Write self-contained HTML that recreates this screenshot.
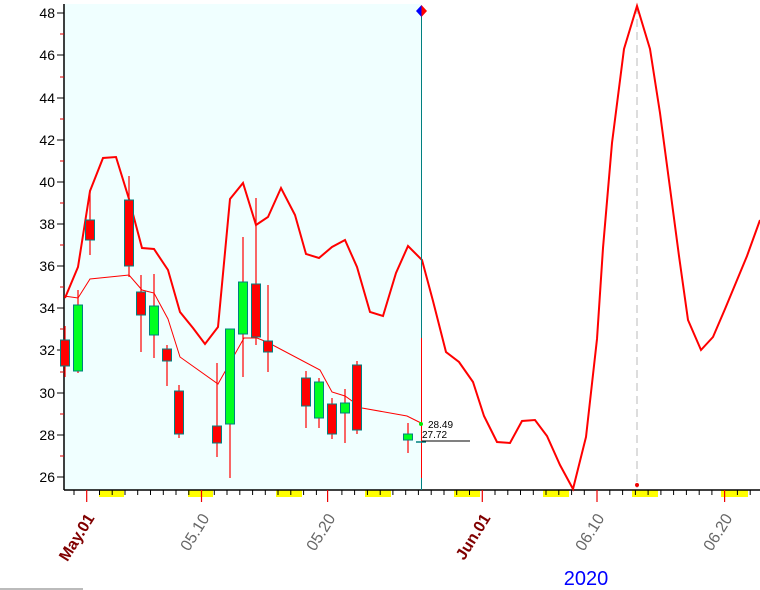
<!DOCTYPE html>
<html><head><meta charset="utf-8"><style>
html,body{margin:0;padding:0;background:#fff;}
svg{display:block;font-family:"Liberation Sans",sans-serif;}
</style></head><body>
<svg width="760" height="590" viewBox="0 0 760 590" xmlns="http://www.w3.org/2000/svg">
<rect x="64" y="4" width="357" height="486" fill="#F0FFFF"/>
<line x1="64" y1="4" x2="64" y2="490" stroke="#000" stroke-width="1.5"/>
<g stroke="#000" stroke-width="1">
<line x1="57" y1="477" x2="64" y2="477"/><line x1="57" y1="435" x2="64" y2="435"/><line x1="57" y1="393" x2="64" y2="393"/><line x1="57" y1="350" x2="64" y2="350"/><line x1="57" y1="308" x2="64" y2="308"/><line x1="57" y1="266" x2="64" y2="266"/><line x1="57" y1="224" x2="64" y2="224"/><line x1="57" y1="182" x2="64" y2="182"/><line x1="57" y1="140" x2="64" y2="140"/><line x1="57" y1="98" x2="64" y2="98"/><line x1="57" y1="55" x2="64" y2="55"/><line x1="57" y1="13" x2="64" y2="13"/>
</g>
<g stroke="#d00" stroke-width="1">
<line x1="60" y1="456" x2="64" y2="456"/><line x1="60" y1="414" x2="64" y2="414"/><line x1="60" y1="372" x2="64" y2="372"/><line x1="60" y1="329" x2="64" y2="329"/><line x1="60" y1="287" x2="64" y2="287"/><line x1="60" y1="245" x2="64" y2="245"/><line x1="60" y1="203" x2="64" y2="203"/><line x1="60" y1="161" x2="64" y2="161"/><line x1="60" y1="119" x2="64" y2="119"/><line x1="60" y1="77" x2="64" y2="77"/><line x1="60" y1="34" x2="64" y2="34"/>
</g>
<g font-size="14" fill="#000" text-anchor="end">
<text x="55" y="482">26</text><text x="55" y="440">28</text><text x="55" y="398">30</text><text x="55" y="355">32</text><text x="55" y="313">34</text><text x="55" y="271">36</text><text x="55" y="229">38</text><text x="55" y="187">40</text><text x="55" y="145">42</text><text x="55" y="103">44</text><text x="55" y="60">46</text><text x="55" y="18">48</text>
</g>
<g fill="#FFFF00">
<rect x="99" y="490" width="25" height="7"/><rect x="188" y="490" width="25" height="7"/><rect x="276" y="490" width="26" height="7"/><rect x="365" y="490" width="26" height="7"/><rect x="454" y="490" width="26" height="7"/><rect x="543" y="490" width="26" height="7"/><rect x="632" y="490" width="26" height="7"/><rect x="721" y="490" width="27" height="7"/>
</g>
<line x1="64" y1="490" x2="760" y2="490" stroke="#000" stroke-width="1.5"/>
<g stroke="#000" stroke-width="1">
<line x1="74" y1="490" x2="74" y2="495"/><line x1="99.5" y1="490" x2="99.5" y2="495"/><line x1="112.2" y1="490" x2="112.2" y2="495"/><line x1="125" y1="490" x2="125" y2="495"/><line x1="137.7" y1="490" x2="137.7" y2="495"/><line x1="150.5" y1="490" x2="150.5" y2="495"/><line x1="163.3" y1="490" x2="163.3" y2="495"/><line x1="176" y1="490" x2="176" y2="495"/><line x1="188.8" y1="490" x2="188.8" y2="495"/><line x1="214.3" y1="490" x2="214.3" y2="495"/><line x1="227" y1="490" x2="227" y2="495"/><line x1="239.8" y1="490" x2="239.8" y2="495"/><line x1="252.6" y1="490" x2="252.6" y2="495"/><line x1="265.3" y1="490" x2="265.3" y2="495"/><line x1="278" y1="490" x2="278" y2="495"/><line x1="290.8" y1="490" x2="290.8" y2="495"/><line x1="303.6" y1="490" x2="303.6" y2="495"/><line x1="316.4" y1="490" x2="316.4" y2="495"/><line x1="341.9" y1="490" x2="341.9" y2="495"/><line x1="354.6" y1="490" x2="354.6" y2="495"/><line x1="367.4" y1="490" x2="367.4" y2="495"/><line x1="380.2" y1="490" x2="380.2" y2="495"/><line x1="392.9" y1="490" x2="392.9" y2="495"/><line x1="405.7" y1="490" x2="405.7" y2="495"/><line x1="418.4" y1="490" x2="418.4" y2="495"/><line x1="431.2" y1="490" x2="431.2" y2="495"/><line x1="444" y1="490" x2="444" y2="495"/><line x1="456.7" y1="490" x2="456.7" y2="495"/><line x1="469.5" y1="490" x2="469.5" y2="495"/><line x1="495" y1="490" x2="495" y2="495"/><line x1="507.8" y1="490" x2="507.8" y2="495"/><line x1="520.5" y1="490" x2="520.5" y2="495"/><line x1="533.3" y1="490" x2="533.3" y2="495"/><line x1="546" y1="490" x2="546" y2="495"/><line x1="558.8" y1="490" x2="558.8" y2="495"/><line x1="571.6" y1="490" x2="571.6" y2="495"/><line x1="584.3" y1="490" x2="584.3" y2="495"/><line x1="609.8" y1="490" x2="609.8" y2="495"/><line x1="622.6" y1="490" x2="622.6" y2="495"/><line x1="635.4" y1="490" x2="635.4" y2="495"/><line x1="648.1" y1="490" x2="648.1" y2="495"/><line x1="660.9" y1="490" x2="660.9" y2="495"/><line x1="673.6" y1="490" x2="673.6" y2="495"/><line x1="686.4" y1="490" x2="686.4" y2="495"/><line x1="699.2" y1="490" x2="699.2" y2="495"/><line x1="711.9" y1="490" x2="711.9" y2="495"/><line x1="737.4" y1="490" x2="737.4" y2="495"/><line x1="750.2" y1="490" x2="750.2" y2="495"/>
</g>
<g stroke="#e00" stroke-width="1.2">
<line x1="86.7" y1="490" x2="86.7" y2="502"/><line x1="201.5" y1="490" x2="201.5" y2="502"/><line x1="327.6" y1="490" x2="327.6" y2="502"/><line x1="482.3" y1="490" x2="482.3" y2="502"/><line x1="597" y1="490" x2="597" y2="502"/><line x1="724.6" y1="490" x2="724.6" y2="502"/>
</g>
<g font-size="16" text-anchor="end">
<text x="95" y="518" transform="rotate(-58 95 518)" fill="#800000" font-weight="bold">May.01</text>
<text x="210" y="518" transform="rotate(-58 210 518)" fill="#666">05.10</text>
<text x="336" y="518" transform="rotate(-58 336 518)" fill="#666">05.20</text>
<text x="491" y="518" transform="rotate(-58 491 518)" fill="#800000" font-weight="bold">Jun.01</text>
<text x="605" y="518" transform="rotate(-58 605 518)" fill="#666">06.10</text>
<text x="733" y="518" transform="rotate(-58 733 518)" fill="#666">06.20</text>
</g>
<text x="586" y="585" font-size="20" fill="#0000ff" text-anchor="middle">2020</text>
<line x1="0" y1="589" x2="83" y2="589" stroke="#bbb" stroke-width="2"/>
<line x1="637" y1="6" x2="637" y2="488" stroke="#bbb" stroke-width="1" stroke-dasharray="8,5"/>
<circle cx="637" cy="485" r="2" fill="#e00"/>
<polyline fill="none" stroke="#f00" stroke-width="2" points="65,298 78,267 90,191 103,158 116,157 129,199 142,248 154,249 168,270 180,312 193,328 205,344 218,327 230,199 243,183 256,225 268,217 281,188 295,215 306,254 319,258 332,247 345,240 357,267 370,312 383,316 396,273 408,246 422,260 433,301 446,352 459,362 473,382 484,416 497,442 510,443 522,421 535,420 547,436 560,465 573,489 586,437 597,339 603,248 612,143 624,49 637,6 650,49 660,113 670,188 679,256 688,320 701,350 713,337 725,309 747,256 760,220"/>
<polyline fill="none" stroke="#f00" stroke-width="1" points="64,296 78,298 90,279 129,275 142,290 154,293 168,319 180,357 218,384 244,338 257,338 267,342 320,370 332,392 345,396 362,408 407,416 421,423"/>
<g stroke="#f00" stroke-width="1.2">
<line x1="65" y1="326" x2="65" y2="377"/><line x1="78" y1="290" x2="78" y2="373"/><line x1="90" y1="190" x2="90" y2="255"/><line x1="129" y1="176" x2="129" y2="277"/><line x1="141" y1="275" x2="141" y2="352"/><line x1="154" y1="274" x2="154" y2="358"/><line x1="167" y1="345" x2="167" y2="386"/><line x1="179" y1="385" x2="179" y2="438"/><line x1="217" y1="363" x2="217" y2="457"/><line x1="230" y1="355" x2="230" y2="478"/><line x1="243" y1="237" x2="243" y2="377"/><line x1="256" y1="198" x2="256" y2="345"/><line x1="268" y1="285" x2="268" y2="372"/><line x1="306" y1="371" x2="306" y2="428"/><line x1="319" y1="378" x2="319" y2="428"/><line x1="332" y1="398" x2="332" y2="439"/><line x1="345" y1="389" x2="345" y2="443"/><line x1="357" y1="361" x2="357" y2="434"/><line x1="408" y1="423" x2="408" y2="453"/>
</g>
<g stroke="#008080" stroke-width="1">
<rect x="60.5" y="340" width="9" height="26" fill="#f00"/>
<rect x="73.5" y="305" width="9" height="66" fill="#00ff20"/>
<rect x="85.5" y="220" width="9" height="20" fill="#f00"/>
<rect x="124.5" y="200" width="9" height="66" fill="#f00"/>
<rect x="136.5" y="292" width="9" height="23" fill="#f00"/>
<rect x="149.5" y="306" width="9" height="29" fill="#00ff20"/>
<rect x="162.5" y="349" width="9" height="12" fill="#f00"/>
<rect x="174.5" y="391" width="9" height="43" fill="#f00"/>
<rect x="212.5" y="426" width="9" height="17" fill="#f00"/>
<rect x="225.5" y="329" width="9" height="95" fill="#00ff20"/>
<rect x="238.5" y="282" width="9" height="52" fill="#00ff20"/>
<rect x="251.5" y="284" width="9" height="53" fill="#f00"/>
<rect x="263.5" y="341" width="9" height="11" fill="#f00"/>
<rect x="301.5" y="378" width="9" height="28" fill="#f00"/>
<rect x="314.5" y="382" width="9" height="36" fill="#00ff20"/>
<rect x="327.5" y="404" width="9" height="30" fill="#f00"/>
<rect x="340.5" y="403" width="9" height="10" fill="#00ff20"/>
<rect x="352.5" y="365" width="9" height="65" fill="#f00"/>
<rect x="403.5" y="434" width="9" height="6" fill="#00ff20"/>
</g>
<line x1="421.5" y1="10" x2="421.5" y2="490" stroke="#008080" stroke-width="1"/>
<line x1="421.5" y1="338" x2="421.5" y2="478" stroke="#f00" stroke-width="1"/>
<polygon points="421.5,5 421.5,17 416,11" fill="#0000ff"/>
<polygon points="421.5,5 421.5,17 427,11" fill="#f00"/>
<line x1="416" y1="442" x2="426" y2="442" stroke="#008080" stroke-width="1.5"/>
<line x1="422" y1="441" x2="470" y2="441" stroke="#000" stroke-width="1"/>
<circle cx="421" cy="424" r="2" fill="#00ee00"/>
<text x="428" y="428" font-size="10" fill="#000">28.49</text>
<text x="422" y="438" font-size="10" fill="#000">27.72</text>
</svg>
</body></html>
